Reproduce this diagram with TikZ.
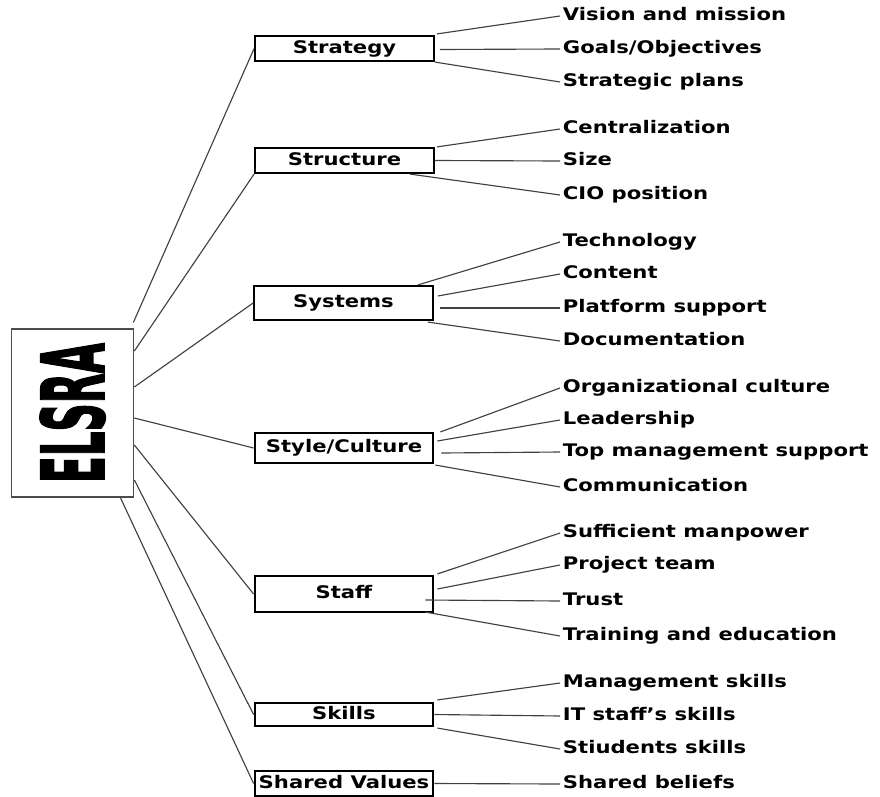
\documentclass[tikz,border=0pt]{standalone}
\usepackage{fontspec}
\usepackage{graphicx}
\setmainfont{DejaVu Sans}
\newfontfamily\itemfont{DejaVu Sans}[FakeStretch=1.22]
\newfontfamily\rootfont{DejaVu Sans Bold}[FakeBold=2.5]
\usetikzlibrary{calc}

\tikzset{
  rootbox/.style={draw=black!70, line width=0.8pt, minimum width=92pt, minimum height=126pt, inner sep=0pt},
  sbox/.style={draw, line width=1.6pt, minimum width=134pt, inner sep=0pt, text height=9.5pt, text depth=2.5pt, font=\itemfont\bfseries\fontsize{13pt}{15pt}\selectfont},
  leaf/.style={anchor=west, inner xsep=2pt, inner ysep=0pt, text height=9.5pt, text depth=2.5pt, font=\itemfont\bfseries\fontsize{13pt}{15pt}\selectfont},
  link/.style={draw=black!75, line width=0.85pt},
}

\begin{document}
\begin{tikzpicture}[x=0.75pt,y=-0.75pt]
\useasboundingbox (0,0) rectangle (880,796);

% root
\node[rootbox] (elsra) at (72.5,413) {\rotatebox{90}{\resizebox{105pt}{48pt}{\rootfont ELSRA}}};

% the seven S
\node[sbox, minimum height=18.75pt] (strat) at (344.5,48.5) {Strategy};
\node[sbox, minimum height=18.75pt] (struc) at (344.5,160.5) {Structure};
\node[sbox, minimum height=25.5pt] (sys) at (343.5,303) {Systems};
\node[sbox, minimum height=22.5pt] (style) at (344,448) {Style/Culture};
\node[sbox, minimum height=27pt] (staff) at (344,594) {Staff};
\node[sbox, minimum height=17.25pt] (skills) at (344,714.5) {Skills};
\node[sbox, minimum height=18.75pt] (shared) at (344,783.5) {Shared Values};

% factors
\node[leaf] (vis) at (560,16) {Vision and mission};
\node[leaf] (goal) at (560,49) {Goals/Objectives};
\node[leaf] (plan) at (560,82) {Strategic plans};
\node[leaf] (cent) at (560,129) {Centralization};
\node[leaf] (size) at (560,161) {Size};
\node[leaf] (cio) at (560,195) {CIO position};
\node[leaf] (tech) at (560,242) {Technology};
\node[leaf] (cont) at (560,274) {Content};
\node[leaf] (plat) at (560,308) {Platform support};
\node[leaf] (doc) at (560,341) {Documentation};
\node[leaf] (org) at (560,388) {Organizational culture};
\node[leaf] (lead) at (560,420) {Leadership};
\node[leaf] (top) at (560,452) {Top management support};
\node[leaf] (comm) at (560,487) {Communication};
\node[leaf] (man) at (560,533) {Sufficient manpower};
\node[leaf] (team) at (560,565) {Project team};
\node[leaf] (trust) at (560,601) {Trust};
\node[leaf] (train) at (560,636) {Training and education};
\node[leaf] (mgmt) at (560,683) {Management skills};
\node[leaf] (it) at (560,716) {IT staff’s skills};
\node[leaf] (stud) at (560,749) {Stiudents skills};
\node[leaf] (belief) at (560,784) {Shared beliefs};

% root to the seven S
\draw[link] ($(elsra.north east)+(-1,-6)$) -- (strat.west);
\draw[link] ($(elsra.east)+(0,-62)$) -- (struc.south west);
\draw[link] ($(elsra.east)+(0,-26)$) -- (sys.west);
\draw[link] ($(elsra.east)+(0,5)$) -- (style.west);
\draw[link] ($(elsra.east)+(0,32)$) -- (staff.west);
\draw[link] ($(elsra.east)+(0,67)$) -- (skills.west);
\draw[link] ($(elsra.south east)+(-14,0)$) -- (shared.west);

% seven S to factors
\draw[link] ($(strat.north east)+(2,-1)$) -- (vis.west);
\draw[link] ($(strat.east)+(5,1)$) -- (goal.west);
\draw[link] (strat.south east) -- (plan.west);

\draw[link] ($(struc.north east)+(2,0)$) -- (cent.west);
\draw[link] (struc.east) -- (size.west);
\draw[link] ($(struc.south east)+(-25,0)$) -- (cio.west);

\draw[link] ($(sys.north east)+(-16,0)$) -- (tech.west);
\draw[link] ($(sys.east)+(4,-7)$) -- (cont.west);
\draw[link] ($(sys.east)+(6,5)$) -- (plat.west);
\draw[link] ($(sys.south east)+(-6,1)$) -- (doc.west);

\draw[link] ($(style.north east)+(6,0)$) -- (org.west);
\draw[link] ($(style.east)+(3,-7)$) -- (lead.west);
\draw[link] ($(style.east)+(7,5)$) -- (top.west);
\draw[link] ($(style.south east)+(1,1)$) -- (comm.west);

\draw[link] ($(staff.north east)+(3,-1)$) -- (man.west);
\draw[link] ($(staff.east)+(3,-5)$) -- (team.west);
\draw[link] ($(staff.east)+(-9,6)$) -- (trust.west);
\draw[link] ($(staff.south east)+(-9,-1)$) -- (train.west);

\draw[link] ($(skills.north east)+(3,-2)$) -- (mgmt.west);
\draw[link] (skills.east) -- (it.west);
\draw[link] ($(skills.south east)+(3,1)$) -- (stud.west);

\draw[link] (shared.east) -- (belief.west);
\end{tikzpicture}
\end{document}
